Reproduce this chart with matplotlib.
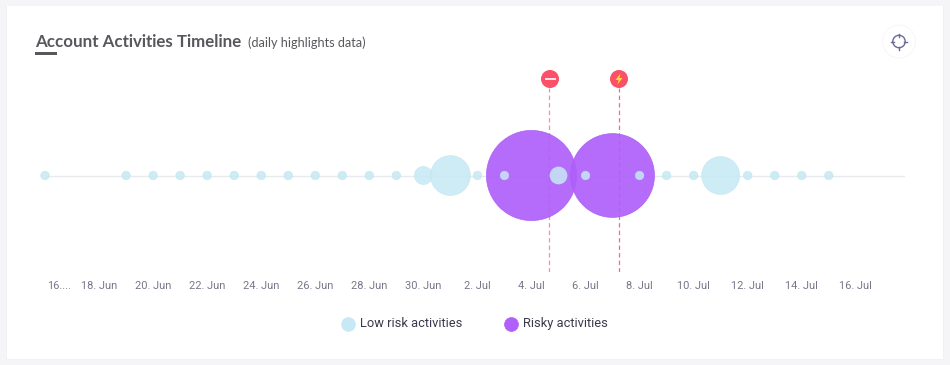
import matplotlib
matplotlib.use("Agg")
import matplotlib.pyplot as plt
import matplotlib.transforms as mtrans
from matplotlib.patches import Circle, Polygon, Rectangle
import pandas as pd

low_dates = ["2019-06-16", "2019-06-19", "2019-06-20", "2019-06-21", "2019-06-22",
             "2019-06-23", "2019-06-24", "2019-06-25", "2019-06-26", "2019-06-27",
             "2019-06-28", "2019-06-29", "2019-06-30", "2019-07-01", "2019-07-02",
             "2019-07-03", "2019-07-05", "2019-07-06", "2019-07-08", "2019-07-09",
             "2019-07-10", "2019-07-11", "2019-07-12", "2019-07-13", "2019-07-14",
             "2019-07-15"]
low_values = [1, 1, 1, 1, 1, 1, 1, 1, 1, 1, 1, 1, 4.4, 21.6, 1, 1, 4, 1, 1, 1, 1, 19.5, 1, 1, 1, 1]

risky_dates = ["2019-07-04", "2019-07-07"]
risky_values = [110, 95]

flag_dates = ["2019-07-04 15:30", "2019-07-07 06:00"]

tick_dates = pd.date_range("2019-06-16", "2019-07-16", freq="2D")
tick_labels = ["16....", "18. Jun", "20. Jun", "22. Jun", "24. Jun", "26. Jun", "28. Jun", "30. Jun",
               "2. Jul", "4. Jul", "6. Jul", "8. Jul", "10. Jul", "12. Jul", "14. Jul", "16. Jul"]

LOW = "#c6e9f5"
LOW_EDGE = "#c0e3ee"
RISKY = "#b05ffa"
FLAG = "#fb5068"
GREY = "#57575c"

# area per unit of value, in points squared
k = 38.3

fig = plt.figure(figsize=(9.5, 3.65), dpi=100, facecolor="#f5f5f8")

# pixel layer for the card, header and buttons
bg = fig.add_axes([0, 0, 1, 1], zorder=0)
bg.set_xlim(0, 950)
bg.set_ylim(365, 0)
bg.axis("off")
bg.add_patch(Rectangle((6, 5.5), 938, 354.5, fc="#f1f1f5", ec="none"))
bg.add_patch(Rectangle((7, 6), 936, 353, fc="white", ec="none"))
bg.text(35, 42, "Account Activities Timeline", fontsize=12.15, fontweight="bold",
        family="Lato", color=GREY, va="center")
bg.text(248, 42.5, "(daily highlights data)", fontsize=9.1, family="Lato", color=GREY, va="center")
bg.add_patch(Rectangle((35, 52), 22, 3, fc=GREY, ec="none"))

# locate button
bg.add_patch(Circle((899, 41.5), 17, fc="#f6f6f8", ec="none"))
bg.add_patch(Circle((899, 41.5), 16, fc="white", ec="none"))
bg.add_patch(Circle((899, 41.5), 6.2, fc="none", ec="#6a6a96", lw=1))
for dx, dy in [(-8, 0), (5, 0), (0, -8), (0, 5)]:
    bg.plot([899 + dx, 899 + dx + (3 if dy == 0 else 0)],
            [41.5 + dy, 41.5 + dy + (3 if dx == 0 else 0)], color="#6a6a96", lw=1)

# flags
for x in [550, 619]:
    bg.add_patch(Circle((x, 79), 9, fc=FLAG, ec="none"))
bg.add_patch(Rectangle((544.5, 78), 11, 2.2, fc="#fde3e6", ec="none"))
bg.add_patch(Polygon([(620.5, 73.5), (615.5, 80), (618.5, 80), (617.5, 84.5), (622.5, 78), (619.5, 78)],
                     fc="#ffd83a", ec="none"))

# chart axes, 45..905 px across and 88..272 px down
ax = fig.add_axes([45 / 950, 1 - 272 / 365, 860 / 950, 184 / 365], zorder=1)
ax.patch.set_alpha(0)
for s in ax.spines.values():
    s.set_visible(False)

start = pd.Timestamp("2019-06-16")
ax.set_xlim(start, start + pd.Timedelta(days=31.82))
ax.set_ylim(-96.5, 87.5)
ax.set_yticks([])

ax.axhline(0, color="#e8eaee", lw=1, zorder=1)
for d, a in zip(flag_dates, [0.65, 0.85]):
    ax.axvline(pd.Timestamp(d), color=FLAG, lw=0.9, ls=(0, (3.5, 2.5)), alpha=a, zorder=1)

ax.scatter(pd.to_datetime(risky_dates), [0] * len(risky_dates), s=[v * k for v in risky_values],
           color=RISKY, alpha=0.92, edgecolors="#a75cf0", linewidths=0.5, zorder=2, clip_on=False,
           label="Risky activities")
ax.scatter(pd.to_datetime(low_dates), [0] * len(low_dates), s=[v * k for v in low_values],
           color=LOW, alpha=0.85, edgecolors=LOW_EDGE, linewidths=0.4, zorder=3, clip_on=False,
           label="Low risk activities")

ax.set_xticks(tick_dates)
ax.set_xticklabels(tick_labels, fontsize=7.9, family="Roboto", color="#77778a")
ax.tick_params(axis="x", length=0, pad=6.5)
first = ax.get_xticklabels()[0]
first.set_ha("left")
first.set_transform(first.get_transform() + mtrans.ScaledTranslation(2 / 100, 0, fig.dpi_scale_trans))

handles, labels = ax.get_legend_handles_labels()
leg = fig.legend(handles[::-1], labels[::-1], ncol=2, frameon=False, loc="center",
                 bbox_to_anchor=(471.5 / 950, 1 - 323.5 / 365), handletextpad=-0.03, columnspacing=2.72,
                 prop={"family": "Roboto", "size": 9.3})
for h, c in zip(leg.legend_handles, [LOW, RISKY]):
    h.set_sizes([100])
    h.set_alpha(1)
    h.set_facecolor(c)
    h.set_edgecolor(c)
for t in leg.get_texts():
    t.set_color("#3a3a4c")

fig.savefig("out.png", dpi=100, facecolor=fig.get_facecolor())
